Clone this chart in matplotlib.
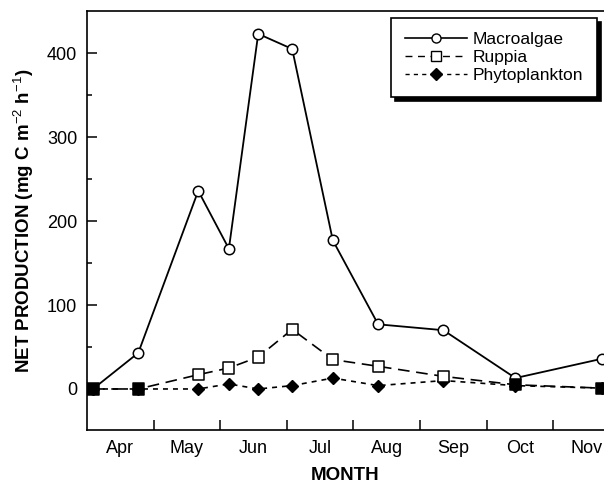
import numpy as np
import matplotlib
matplotlib.use("Agg")
import matplotlib.pyplot as plt

plt.rcParams['font.family'] = ['Liberation Sans', 'DejaVu Sans']
plt.rcParams['mathtext.fontset'] = 'custom'
plt.rcParams['mathtext.rm'] = 'Liberation Sans'
plt.rcParams['mathtext.bf'] = 'Liberation Sans:bold'

# sampling dates, in months after 1 April
sample_month = [0.09, 0.77, 1.67, 2.13, 2.57, 3.08, 3.69, 4.37, 5.35, 6.43, 7.73]
macroalgae = [0, 43, 236, 167, 423, 405, 177, 77, 70, 13, 36]
ruppia = [0, 0, 17, 25, 38, 71, 35, 27, 15, 5, 1]
ruppia_filled = [True, True, False, False, False, False, False, False, False, True, True]
phyto = [0, 0, 0, 6, 0, 4, 13, 4, 10, 4, 1]
months = ['Apr', 'May', 'Jun', 'Jul', 'Aug', 'Sep', 'Oct', 'Nov']

fig = plt.figure(figsize=(6.04, 4.86), dpi=100)
ax = fig.add_axes([0.144, 0.115, 0.856, 0.862])

ax.plot(sample_month, phyto, color='black', lw=1.2, ls=(0, (3, 3)),
        marker='D', ms=6.5, mfc='black', mec='black', zorder=3)
ax.plot(sample_month, ruppia, color='black', lw=1.2, ls=(0, (7, 4)), zorder=3)
ax.plot(sample_month, macroalgae, color='black', lw=1.3, marker='o', ms=7.5,
        mfc='white', mec='black', mew=1.1, zorder=5)
fc = ['black' if f else 'white' for f in ruppia_filled]
ax.scatter(sample_month, ruppia, marker='s', s=65, facecolors=fc, edgecolors='black',
           linewidths=1.1, zorder=6)

# legend handles
h1, = ax.plot([], [], color='black', lw=1.2, marker='o', ms=6.5, mfc='white', mec='black')
h2, = ax.plot([], [], color='black', lw=1.0, ls=(0, (5, 4)), marker='s', ms=6.5, mfc='white', mec='black')
h3, = ax.plot([], [], color='black', lw=1.0, ls=(0, (3, 3)), marker='D', ms=6, mfc='black', mec='black')
leg = ax.legend([h1, h2, h3], ['Macroalgae', 'Ruppia', 'Phytoplankton'],
                loc='upper right', bbox_to_anchor=(0.986, 0.983), borderaxespad=0,
                fontsize=12.5, handlelength=3.6, handletextpad=0.3,
                labelspacing=0.15, borderpad=0.8,
                fancybox=False, framealpha=1, edgecolor='black',
                shadow={'color': 'black', 'alpha': 1, 'ox': 3, 'oy': -3})
leg.get_frame().set_linewidth(1.2)

ax.set_xlim(0, 7.76)
ax.set_ylim(-49, 450)

ax.set_xticks(np.arange(1, 8))
ax.set_xticklabels([])
ax.set_xticks(np.arange(len(months)) + 0.5, minor=True)
ax.set_xticklabels(months, minor=True, fontsize=13)
ax.tick_params(axis='x', which='major', direction='in', length=7, width=1.1)
ax.tick_params(axis='x', which='minor', length=0, pad=7)

ax.set_yticks([0, 100, 200, 300, 400])
ax.set_yticks([50, 150, 250, 350], minor=True)
ax.tick_params(axis='y', which='major', direction='in', length=7, width=1.1, labelsize=13, pad=7)
ax.tick_params(axis='y', which='minor', direction='in', length=3.5, width=1.1)

ax.spines['right'].set_visible(False)
for s in ['left', 'bottom', 'top']:
    ax.spines[s].set_linewidth(1.2)

ax.set_xlabel('MONTH', fontsize=13.5, fontweight='bold', labelpad=7)
ax.set_ylabel(r'NET PRODUCTION (mg C m$^{-2}$ h$^{-1}$)', fontsize=13.5,
              fontweight='bold', labelpad=8)

fig.savefig('out.png', dpi=100)
